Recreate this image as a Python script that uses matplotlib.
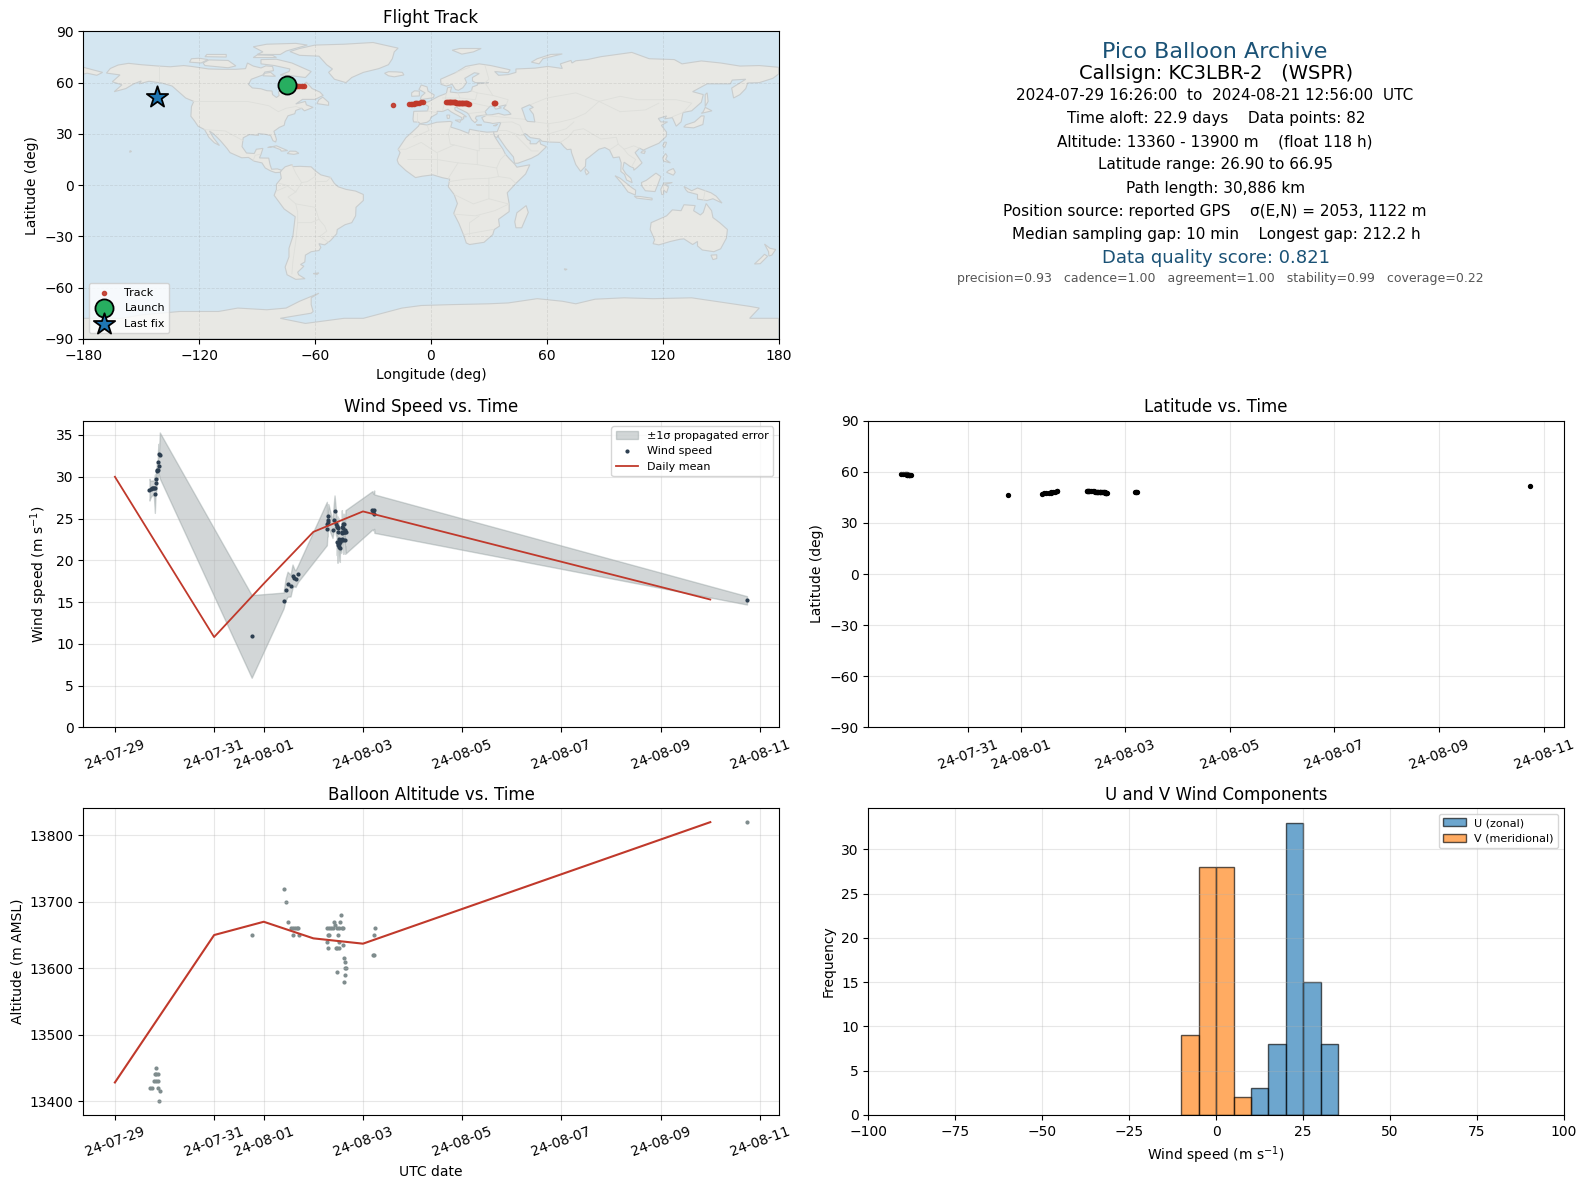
#!/usr/bin/env python3
# -*- coding: utf-8 -*-
from datetime import datetime
import numpy as np
import matplotlib
matplotlib.use('Agg')
import matplotlib.pyplot as plt
import matplotlib.dates as mdates

#%% DATA
# all times are days after 2024-07-29 00:00 UTC
fix_day = [0.712, 0.745, 0.79, 0.805, 0.825, 0.832, 0.832, 0.859, 0.859, 0.873, 0.885, 0.899,
           2.758,
           3.403, 3.443, 3.483, 3.55, 3.584, 3.584, 3.624, 3.664, 3.698, 3.705,
           4.268, 4.268, 4.289, 4.295, 4.309, 4.309, 4.349, 4.389, 4.409, 4.43, 4.45, 4.47, 4.47,
           4.483, 4.49, 4.51, 4.51, 4.51, 4.53, 4.55, 4.57, 4.59, 4.59, 4.61, 4.61, 4.63, 4.63, 4.63, 4.65,
           5.195, 5.215, 5.215, 5.235,
           12.74]
fix_alt = [13420, 13420, 13430, 13440, 13450, 13440, 13430, 13440, 13420, 13430, 13400, 13415,
           13650,
           13720, 13700, 13670, 13660, 13650, 13660, 13660, 13660, 13660, 13650,
           13660, 13640, 13630, 13650, 13660, 13650, 13660, 13660, 13670, 13665, 13630, 13660, 13594,
           13630, 13650, 13640, 13630, 13660, 13670, 13680, 13660, 13660, 13635, 13615, 13580, 13610, 13600, 13590, 13600,
           13620, 13620, 13650, 13660,
           13820]
fix_lat = [58.8, 58.8, 58.7, 58.6, 58.5, 58.4, 58.4, 58.3, 58.2, 58.2, 58.1, 58.0,
           46.7,
           47.3, 47.4, 47.5, 47.6, 47.8, 47.9, 48.1, 48.3, 48.5, 48.7,
           48.7, 48.7, 48.6, 48.6, 48.6, 48.6, 48.5, 48.5, 48.5, 48.4, 48.4, 48.4, 48.3,
           48.3, 48.3, 48.2, 48.2, 48.2, 48.1, 48.1, 48.0, 47.9, 47.9, 47.9, 47.8, 47.8, 47.8, 47.7, 47.7,
           47.9, 47.9, 47.9, 47.9,
           51.8]
fix_lon = [-74.7, -73.9, -72.8, -72.3, -71.8, -71.2, -70.8, -69.8, -69.2, -68.4, -67.0, -65.5,
           -19.9,
           -11.2, -10.4, -9.8, -9.0, -8.2, -7.9, -7.0, -6.1, -5.0, -4.3,
           7.8, 8.3, 8.8, 9.2, 9.7, 10.1, 10.5, 11.0, 11.4, 11.8, 12.3, 12.7, 13.1,
           13.5, 13.9, 14.3, 14.7, 15.1, 15.5, 15.9, 16.3, 16.7, 17.1, 17.5, 17.9, 18.3, 18.7, 19.1, 19.5,
           32.6, 32.9, 33.1, 33.4,
           -141.9]

wind_day = [0.697, 0.718, 0.744, 0.765, 0.785, 0.805, 0.818, 0.825, 0.838, 0.845, 0.852, 0.865, 0.865, 0.879, 0.885, 0.905,
            2.757,
            3.40, 3.44, 3.48, 3.54, 3.58, 3.615, 3.64, 3.69,
            4.272, 4.28, 4.29, 4.29, 4.305, 4.386, 4.406, 4.427, 4.46, 4.47, 4.473, 4.48, 4.487, 4.494, 4.494, 4.50,
            4.507, 4.52, 4.52, 4.534, 4.534, 4.547, 4.56, 4.57, 4.574, 4.58, 4.587, 4.593, 4.60, 4.607, 4.614, 4.62,
            4.627, 4.63, 4.634, 4.64, 4.648,
            5.19, 5.205, 5.225, 5.23,
            12.74]
wind_speed = [28.45, 28.5, 28.65, 28.65, 28.65, 27.97, 28.6, 29.2, 29.76, 30.64, 30.76, 30.84, 31.8, 32.75, 31.3, 32.55,
              10.88,
              15.18, 16.5, 17.13, 16.97, 18.09, 17.93, 17.8, 18.4,
              24.4, 23.7, 24.8, 24.6, 25.3, 23.67, 24.86, 25.86, 24.3, 24.0, 22.2, 24.1, 21.8, 23.4, 22.07, 23.9,
              21.6, 21.9, 22.6, 21.5, 22.2, 22.4, 22.4, 22.5, 24.0, 23.35, 23.3, 23.9, 22.47, 24.3, 23.4, 23.35,
              24.3, 23.6, 22.47, 23.35, 23.4,
              25.98, 25.78, 26.06, 25.58,
              15.2]
wind_sigma = [1.3, 1.0, 0.9, 0.9, 0.9, 2.3, 1.0, 1.2, 1.2, 1.0, 1.0, 1.0, 1.0, 1.2, 1.0, 2.75,
              4.95,
              0.95, 1.3, 1.5, 1.3, 1.4, 1.0, 1.0, 1.0,
              2.6, 1.0, 1.9, 1.2, 1.4, 1.0, 1.5, 1.9, 1.4, 1.0, 1.6, 1.2, 2.1, 1.5, 1.6, 1.2,
              1.6, 1.3, 1.0, 1.7, 1.5, 1.3, 1.5, 1.0, 2.0, 1.2, 1.5, 1.3, 1.7, 1.3, 1.2, 1.5,
              1.2, 1.6, 1.7, 1.6, 2.6,
              2.3, 2.2, 2.3, 2.3,
              0.5]

mean_day = [0, 2, 3, 4, 5, 12]
mean_speed = [30.0, 10.8, 17.2, 23.4, 25.85, 15.3]
mean_alt = [13428, 13650, 13670, 13645, 13637, 13820]

bin_left = [-10, -5, 0, 5, 10, 15, 20, 25, 30]
u_counts = [0, 0, 0, 0, 3, 8, 33, 15, 8]
v_counts = [9, 28, 28, 2, 0, 0, 0, 0, 0]

date_ticks = [datetime(2024, 7, 29), datetime(2024, 7, 31), datetime(2024, 8, 1), datetime(2024, 8, 3),
              datetime(2024, 8, 5), datetime(2024, 8, 7), datetime(2024, 8, 9), datetime(2024, 8, 11)]

# coarse world map, lon/lat outlines
land = [
    # north america
    [(-168,65.6),(-166,68.3),(-162,70.3),(-156.6,71.3),(-150,70.5),(-141,69.7),(-135,69.3),(-128,70),(-124,69.5),
     (-115,68),(-108,67.8),(-101,67.8),(-96,68.2),(-95,71.5),(-92,69.7),(-88,68.6),(-85.5,69.8),(-82,69.5),(-81.5,67),
     (-86,66.2),(-87,64.5),(-93,62),(-94.5,59),(-92.5,56.9),(-88,56.4),(-85,55.3),(-82.3,55.1),(-82,53),(-80,51.3),
     (-78.6,52.5),(-79,54.5),(-76.7,56.5),(-78,58.8),(-77.5,62.4),(-73.5,62.3),(-70,61),(-69.5,58.9),(-66,58.8),
     (-64.5,60.3),(-61.5,56.5),(-57.5,54.5),(-55.8,52.5),(-60,50.2),(-66.5,50.2),(-70,47.5),(-65,49),(-64.5,47),
     (-61,45.5),(-65.5,43.5),(-67,45),(-70,43.7),(-70.5,41.8),(-74,40.6),(-75.5,37.5),(-76,35),(-78.5,33.8),(-81.3,31.5),
     (-80,26.8),(-80.4,25.2),(-81.8,26),(-83,29),(-85.5,29.7),(-89.5,30.2),(-89.3,29.1),(-94,29.6),(-97.2,27.7),
     (-97.8,22.5),(-95.5,18.8),(-91.5,18.5),(-90.4,21),(-87,21.5),(-88,18),(-88.8,15.9),(-84,15.8),(-83.3,12),(-82.5,9.3),
     (-79.5,9.5),(-77.3,8.7),(-78,7.5),(-80.5,7.3),(-83,8.3),(-85.8,10),(-87.5,13),(-91.5,14),(-94.5,16.2),(-98,16),
     (-104,19),(-105.6,21.5),(-109,26),(-112.5,30),(-114.7,31.7),(-112.5,27.5),(-109.5,23.2),(-112.2,24.8),(-115,28),
     (-117.2,32.5),(-120.6,34.5),(-122.5,37.7),(-124.3,40.3),(-124,46),(-122.8,49),(-127,51),(-130.5,54.5),(-134,58),
     (-139.5,59.8),(-146,60.8),(-151,59.3),(-150,61),(-154,59.2),(-158,56.5),(-164,54.7),(-160,58.7),(-165,60.5),(-161,64.5)],
    [(-80,73.7),(-72,71.5),(-68,69.5),(-62,66.5),(-65,63),(-72,64),(-78,64.5),(-73.5,66.5),(-73,68),(-81,70),(-88,71),(-88,73.5)],
    [(-117,70),(-105,68.7),(-101,69.8),(-105,73),(-115,73.3),(-118,71.5)],
    [(-125,72),(-119,71.5),(-115.5,73.5),(-120,74.3),(-124,74)],
    [(-90,76.5),(-78,76.5),(-75,78.5),(-64,82),(-70,83),(-85,82.5),(-92,81),(-87,78)],
    [(-92,74.7),(-80,74.7),(-82,76),(-90,76.2)],
    [(-117,75.2),(-106,75),(-106,76.5),(-116,76.5)],
    [(-87,64),(-80.5,63.7),(-83,66),(-86,65.5)],
    [(-59,47.7),(-53,46.7),(-53,48.5),(-56,51.5),(-58,50)],
    # greenland, iceland, caribbean, hawaii
    [(-73,78.2),(-68,76),(-58,75.5),(-54,70.5),(-51,68),(-53,66),(-50,62),(-44,60),(-41,63),(-35,66),(-27,68.2),(-22,70.5),
     (-20,74),(-19,78),(-17,80.2),(-30,83.5),(-45,82.5),(-60,82),(-68,80)],
    [(-24,65.5),(-22,64),(-19,63.4),(-14,64.5),(-14.8,66),(-18,66.3),(-22,66.4)],
    [(-84.5,22),(-80,23),(-74.2,20.2),(-77.5,19.9),(-78,20.8),(-82,22.5)],
    [(-74.4,18.5),(-71,18),(-68.4,18.6),(-70,19.8),(-73,19.9)],
    [(-156,19.2),(-155,19.7),(-155.8,20.2)],
    # south america
    [(-77.3,8.7),(-75.5,10.7),(-72,12),(-71.5,10.8),(-68,11),(-62,10.7),(-60,8.5),(-57,6),(-52,4.5),(-50,1),(-48,-1),
     (-44,-2.5),(-39,-3.5),(-35,-5.5),(-35,-9),(-38.8,-13),(-39,-18),(-41,-22),(-44.5,-23.2),(-48.5,-26),(-48.8,-28.5),
     (-52,-32.5),(-55,-35),(-58,-34.3),(-57,-36.5),(-58,-38.3),(-62,-39),(-65,-41),(-65.3,-45),(-67.5,-46.5),(-65.8,-47.5),
     (-69,-51),(-68.5,-52.5),(-65.2,-54.8),(-70,-55.2),(-74.5,-52.5),(-75.5,-48),(-73.5,-42),(-73.5,-37),(-71.5,-30),
     (-70.3,-18.5),(-76,-14),(-81.2,-6),(-80,-2.5),(-80,0.5),(-77.5,4),(-78,7.5)],
    [(-61,-51.8),(-58,-51.4),(-59,-52.3)],
    # africa
    [(-5.9,35.8),(-2,35.2),(3,36.8),(10,37.3),(11,36.8),(10.2,34),(15,32.3),(19.5,30.3),(20,32.7),(25,31.6),(29,31),
     (32.5,31.2),(32.6,29.9),(33.5,27.5),(35.5,24),(37.3,21),(38.6,18),(41,15),(43.2,12.5),(44.5,10.5),(51.2,11.9),(49,6.5),
     (44,1),(39.5,-4.5),(40.5,-11),(40.5,-15.5),(35,-20),(35.5,-24),(32.8,-26),(32,-29),(27.5,-33.5),(20,-34.8),(18.3,-33.9),
     (17,-29.5),(14.5,-22.5),(11.8,-16.5),(13.7,-10.8),(12,-5.5),(9,-1),(9.7,3.5),(6,4.3),(1,6),(-4.5,5.2),(-8,4.4),(-13,8.5),
     (-16.8,12.5),(-17.5,14.7),(-16,19),(-17,21),(-13,27.7),(-9.8,31),(-6.5,34.5)],
    [(49.3,-12),(50.4,-16),(47,-25),(44,-25),(43.4,-21.5),(44.5,-16.2)],
    # eurasia
    [(-9.3,38.7),(-8.9,43.2),(-1.8,43.4),(-1.2,46),(-4.6,48.3),(-1.5,48.7),(1.5,50.5),(4,52),(8,53.7),(8.6,57),(10.7,57.5),
     (10,54.5),(14,54),(19,54.4),(21,55.2),(21.5,57.5),(24,58.5),(24,59.3),(30,60),(23,60),(21.5,61),(21.5,63),(25,65.3),
     (22.5,65.8),(17.5,62.5),(18.5,60),(16.5,57),(14.2,55.5),(12.7,56),(11,59),(8,58),(5.2,59),(5,62),(13,66),(18,69.5),
     (25,71),(31,70),(41,67.5),(40,65.8),(33,66.5),(35,64.3),(40,64.7),(44,66),(44,68),(54,68.5),(60.5,69.5),(68,68.3),(67,71),
     (72.5,73),(73,71.5),(75,72.8),(81,73.5),(88,75.2),(104,77.7),(113,74),(126,73.5),(130,71),(140,72.7),(150,71.5),(160,69.7),
     (170,70),(180,69),(180,65),(177,62.5),(170,60),(164,59.8),(163,56.5),(160,53),(156.7,51),(155.7,56.8),(163,62),(156,61.5),
     (155,59.3),(143,59.3),(135.5,54.7),(141,53),(140,48.5),(135,43.5),(130.5,42.5),(129.5,37),(127,34.5),(126,37),(125,39.5),
     (121,38.8),(122,40.5),(117.7,39),(119,37),(122.5,37),(119.3,35),(122,31),(121.8,28.5),(118,24.5),(113.5,22.3),(110,20.5),
     (108,21.6),(105.7,19),(109.3,13),(106.8,10.3),(105,8.7),(105,10),(103,11),(100.8,12.8),(100,13.4),(99.3,9.5),(101,6.5),
     (103.5,4),(104.2,1.4),(101.3,3),(100.2,6.3),(98.3,8),(98.5,13),(97.5,16.5),(94.4,16),(92.5,20.5),(90,22),(87,21),(82,16.5),
     (80.2,15),(80,11),(77.5,8),(75,12),(72.8,19),(72.5,21),(70.5,20.8),(69,22.3),(67,25),(61.5,25.2),(57.5,25.7),(56.3,27),
     (51.5,27.8),(48.8,30.2),(48,29.8),(50,26.7),(51.5,25.8),(51.3,24.2),(54.5,24.2),(56.3,26.2),(56.8,24),(59.8,22.5),
     (55.5,17.8),(52,15.7),(45,12.8),(43.3,12.8),(42.7,16.5),(39,21.5),(35,28),(34.9,29.5),(34.2,27.8),(33,28.5),(32.6,29.9),
     (32.5,31.2),(34.3,31.3),(35.8,35.5),(36.2,36.7),(32,36.1),(30.5,36.5),(27.5,37),(26.3,39.5),(29,41),(31.5,41.2),(35,42),
     (38,41),(41.5,41.5),(40,43.3),(37.5,45),(39,47),(35,46),(36.5,45.2),(33.5,44.5),(32.5,46),(30.7,46.3),(28,43),(28.9,41.2),
     (26.3,40.7),(23.5,40.3),(23,39),(24,38),(22.8,36.5),(21,38.3),(19.5,41.5),(18.5,42.5),(14,45),(13.5,45.7),(12.3,45.3),
     (12.5,44),(16,41.9),(18.4,40),(16.7,40),(17,39),(15.8,38),(16,39.5),(12.3,41.7),(10.3,43),(8.8,44.4),(6,43.1),(3.2,43.2),
     (3.2,41.8),(0,39.7),(-0.5,38),(-2,36.8),(-5.5,36),(-6.5,36.9),(-9,37)],
    [(-180,69),(-175,67.5),(-170,66),(-173,64.3),(-178,65.5),(-180,65)],
    [(-5.5,50),(1.3,51.2),(1.7,52.8),(-1.5,55),(-2,57.5),(-5,58.6),(-6.2,56),(-3,54),(-5,52)],
    [(-10,52),(-6,52.2),(-6,55),(-8.5,55.2),(-10,54)],
    [(11,79),(16,76.7),(22,78),(26,80),(15,80)],
    [(52,72),(56,71),(58,74),(68,76.8),(62,76.5),(55,74)],
    [(12.5,38),(15.5,38.2),(15,36.7)],
    [(8.2,41),(9.7,41),(9.5,39.1),(8.5,39)],
    [(32.4,34.8),(34.5,35.6),(33.5,34.7)],
    [(23.5,35.4),(26.3,35.2),(24.5,35)],
    [(80,9.7),(81.8,7.3),(80.5,6),(79.8,8)],
    [(130.9,34),(136,33.5),(140.8,35.5),(141.5,40.5),(140,40.5),(136.5,37),(132,35.3)],
    [(140,42),(145.5,43.5),(142,45.5),(141,43)],
    [(142,46),(143.5,49),(143,54),(142,53)],
    [(120,23),(121,22),(122,25),(121,25.2)],
    [(108.7,19),(110.5,18.5),(111,20),(109.5,20)],
    [(120,16),(121.5,18.5),(122.3,17),(121.5,15),(124,13),(120.5,14)],
    [(122,7.5),(125.5,5.8),(126.5,7.5),(125.5,9.7),(123,8.5)],
    [(95.3,5.5),(98,4),(104,-1.5),(106,-3),(105.8,-5.8),(102,-4),(98.8,1)],
    [(105.3,-6.5),(108.5,-6.7),(114.5,-7.7),(114.5,-8.7),(106.5,-7.6)],
    [(109,1.5),(111.5,2.8),(116.5,7),(119,5),(117.7,1),(116,-3.8),(111,-3.3),(109.2,-0.5)],
    [(119.5,-5.5),(119,-2.5),(120.5,1.2),(125,1.5),(121,0.3),(123,-1),(122,-4.5),(120.5,-2.8),(120.5,-5.5)],
    [(131,-0.8),(135,-3.3),(138,-1.7),(145,-4.5),(147.7,-6.5),(150.7,-10.5),(146,-8),(143,-9),(138,-8.2),(138,-5.5),(133,-4),(132,-2.8)],
    # australia, nz
    [(114,-22),(113.5,-26),(115.8,-32),(115,-34.3),(118,-35),(124,-33),(129,-31.7),(131,-31.5),(135.5,-34.8),(138,-33),(138,-35.6),
     (140.5,-38),(146.5,-39),(150,-37.3),(153,-31),(153.5,-26),(149.5,-22),(146,-19),(145.3,-15),(142.5,-10.8),(141,-16),(139.5,-17.5),
     (136,-15),(136.8,-12),(131,-11.5),(129.5,-15),(125,-14.5),(122,-18),(117,-20.5)],
    [(145,-41),(148,-40.8),(148,-43),(146,-43.6)],
    [(172.7,-34.5),(175.5,-37),(178.5,-37.7),(176.5,-41),(175,-41.5),(174.8,-39)],
    [(172.7,-40.5),(174.3,-41.7),(170.5,-46),(167.5,-46.2),(171,-42.5)],
    [(69,-49),(70.5,-49.3),(69.5,-49.8)],
    # antarctica
    [(-180,-78),(-160,-78),(-150,-76),(-130,-74),(-110,-74),(-100,-72),(-85,-73),(-75,-72),(-68,-68),(-58,-63.3),(-62,-66),(-62,-70),
     (-61,-74),(-62,-75),(-78,-78),(-65,-81),(-45,-78),(-35,-78),(-25,-75),(-15,-72),(-5,-70.5),(10,-70),(30,-69.5),(40,-69),(55,-66.5),
     (68,-68),(75,-69.5),(85,-66.8),(100,-66),(115,-66.5),(135,-66),(150,-68.5),(165,-71),(170,-72),(165,-78),(180,-78),(180,-90),(-180,-90)],
]
caspian = [(47,45),(51,47),(53,45.5),(51,44.5),(53,41.5),(53.8,37),(50,37.3),(49,38.5),(47.7,43)]
borders = [
    [(-141,69.7),(-141,60.3)], [(-123,49),(-95,49),(-84,46.5),(-79,43),(-75,45),(-70,46),(-67,45)],
    [(-117.2,32.5),(-106.5,31.7),(-97.2,26)], [(-92,14.5),(-91,17.5),(-88.5,18)],
    [(-72,12),(-70,7),(-67,1.5),(-70,-4),(-74,-7),(-70,-11),(-69,-16),(-69,-22),(-70,-33),(-71.5,-45),(-72,-52)],
    [(-60,8.5),(-60,5),(-64,2),(-67,1.5)], [(-70,-11),(-60,-13),(-58,-20),(-55,-24),(-54,-27),(-57.5,-30),(-53,-33.5)],
    [(-69,-22),(-62,-22),(-58,-20)], [(-78.5,1),(-75,0),(-70,-4)], [(-80,-3.5),(-75,-1)], [(-52,4.5),(-54,2.2),(-60,2)],
    [(-17,21),(-13,21),(-5,25),(3,19),(12,23.5),(25,20),(25,31.6)], [(-9,28),(-1,32),(-2,35.2)], [(10,34),(9,30),(10,24),(12,23.5)],
    [(25,22),(36,22)], [(3,19),(3,12),(3,6.5)], [(-12,15),(-5,15),(3,15),(14,13),(24,12),(24,20)], [(14,13),(9,4)],
    [(24,12),(34,10),(36,15),(38.6,18)], [(34,10),(35,5),(41,4),(44,1)], [(9,2),(18,3.5),(30,4),(35,5)], [(30,4),(30,-8),(40,-11)],
    [(12,-5.5),(22,-11),(30,-8)], [(11.8,-17),(23,-18),(33,-15),(40.5,-11)], [(20,-29),(20,-22),(25,-18)], [(17,-29),(32,-26)],
    [(-1.8,43.4),(3.2,42.4)], [(-7,37),(-7,42)], [(6,43.5),(7,48),(8,53.7)], [(6,51),(15,51),(14,54)], [(15,51),(23,50),(24,54),(21,55.2)],
    [(13,47.5),(22,48),(30,46)], [(24,54),(32,52.5),(40,50),(39,47)], [(28,60),(32,52.5)], [(13,66),(20,69)], [(28,70),(30,62),(28,60)],
    [(20,42),(28,43)], [(26.3,41),(44,39),(49,38.5)], [(36.2,36.7),(42,37),(46,35),(48,30)], [(35,32),(39,32),(46,29),(48,29)], [(44,29),(52,20),(55.5,20)],
    [(47,45),(60,51),(75,54),(87,49),(80,42),(74,39),(67,37),(61,36),(53.8,37)], [(61,36),(61,31),(61.5,25.2)], [(61,30),(70,33),(74,37)],
    [(67,25),(71,28),(74,32),(79,33),(88,27),(96,28),(97,24),(93,21)], [(87,49),(98,52),(107,50),(118,50),(127,50),(135,48),(131,43)],
    [(98,43),(111,44),(118,48)], [(87,49),(98,43)], [(97,24),(100,21),(105,23),(108,21.6)], [(100,21),(102,18),(106,15),(104,11)],
    [(125,40),(130.5,42.5)], [(142,-3),(141,-9)],
]

#%% FIGURE
fig = plt.figure(figsize=(15.86, 11.89), dpi=100)
W, H = 1586.0, 1189.0

def add_ax(x0, y0, x1, y1):
    return fig.add_axes([x0 / W, 1 - y1 / H, (x1 - x0) / W, (y1 - y0) / H])

COL1 = (83.3, 778.6)
COL2 = (868.3, 1564.0)
ROW1 = (31.4, 338.8)
ROW2 = (420.8, 727.3)
ROW3 = (808.2, 1115.0)

START = mdates.date2num(datetime(2024, 7, 29))
fix_t = START + np.array(fix_day)
wind_t = START + np.array(wind_day)
mean_t = START + np.array(mean_day)
wind_speed = np.array(wind_speed)
wind_sigma = np.array(wind_sigma)

DARK = '#2c3e50'
RED = '#c0392b'
GREY = '#7f8c8d'
TITLE_BLUE = '#1a5276'

def date_axis(ax):
    ax.set_xticks(date_ticks)
    ax.xaxis.set_major_formatter(mdates.DateFormatter('%y-%m-%d'))
    ax.tick_params(axis='x', labelrotation=20)
    ax.grid(alpha=0.3)

#%% Flight track
ax = add_ax(COL1[0], ROW1[0], COL1[1], ROW1[1])
ax.set_facecolor('#d4e6f1')
for poly in land:
    xy = np.array(poly)
    ax.fill(xy[:, 0], xy[:, 1], facecolor='#e8e8e4', edgecolor='#c9cdce', lw=0.8, zorder=1)
xy = np.array(caspian)
ax.fill(xy[:, 0], xy[:, 1], facecolor='#d4e6f1', edgecolor='#c9cdce', lw=0.8, zorder=1.2)
for line in borders:
    xy = np.array(line)
    ax.plot(xy[:, 0], xy[:, 1], color='#dedfdb', lw=0.6, zorder=1.1)
ax.scatter(fix_lon, fix_lat, s=9, color=RED, alpha=0.9, zorder=3, label='Track')
ax.scatter(fix_lon[0], fix_lat[0], s=170, color='#27ae60', edgecolor='black', linewidth=1.3, zorder=4, label='Launch')
ax.scatter(fix_lon[-1], fix_lat[-1], s=260, marker='*', color='#1f77b4', edgecolor='black', linewidth=1.3, zorder=4, label='Last fix')
ax.set_xlim(-180, 180)
ax.set_ylim(-90, 90)
ax.set_xticks(range(-180, 181, 60))
ax.set_yticks(range(-90, 91, 30))
ax.grid(alpha=0.18, ls='--', lw=0.6, color='grey')
ax.set_xlabel('Longitude (deg)')
ax.set_ylabel('Latitude (deg)')
ax.set_title('Flight Track')
ax.legend(loc='lower left', fontsize=8)

#%% Summary text
ax = add_ax(COL2[0], ROW1[0], COL2[1], ROW1[1])
ax.axis('off')
summary = [
    (51, 0.4985, 'Pico Balloon Archive', 16, TITLE_BLUE),
    (73, 0.5, 'Callsign: KC3LBR-2   (WSPR)', 14, 'black'),
    (94, 0.4985, '2024-07-29 16:26:00  to  2024-08-21 12:56:00  UTC', 11, 'black'),
    (117, 0.5, 'Time aloft: 22.9 days    Data points: 82', 11, 'black'),
    (140, 0.4985, 'Altitude: 13360 - 13900 m    (float 118 h)', 11, 'black'),
    (163, 0.4985, 'Latitude range: 26.90 to 66.95', 11, 'black'),
    (186, 0.4985, 'Path length: 30,886 km', 11, 'black'),
    (209, 0.4985, 'Position source: reported GPS    σ(E,N) = 2053, 1122 m', 11, 'black'),
    (232, 0.5, 'Median sampling gap: 10 min    Longest gap: 212.2 h', 11, 'black'),
    (255.5, 0.5, 'Data quality score: 0.821', 13, TITLE_BLUE),
    (275.5, 0.506, 'precision=0.93   cadence=1.00   agreement=1.00   stability=0.99   coverage=0.22', 9, '#555555'),
]
for y_px, x_frac, txt, size, col in summary:
    ax.text(x_frac, 1 - (y_px - 31) / 304.0, txt, transform=ax.transAxes, ha='center', va='center', fontsize=size, color=col)

#%% Wind speed
ax = add_ax(COL1[0], ROW2[0], COL1[1], ROW2[1])
ax.fill_between(wind_t, wind_speed - wind_sigma, wind_speed + wind_sigma, color=GREY, alpha=0.35, label='±1σ propagated error')
ax.scatter(wind_t, wind_speed, s=4, color=DARK, label='Wind speed', zorder=3)
ax.plot(mean_t, mean_speed, color=RED, lw=1.3, label='Daily mean', zorder=4)
ax.set_ylim(bottom=0)
ax.set_ylabel('Wind speed (m s$^{-1}$)')
ax.set_title('Wind Speed vs. Time')
ax.legend(loc='upper right', fontsize=8)
date_axis(ax)
ax.set_xlim(START - 0.637, START + 13.377)
ax.set_ylim(0, 36.7)

#%% Latitude
ax = add_ax(COL2[0], ROW2[0], COL2[1], ROW2[1])
ax.scatter(fix_t, fix_lat, s=8, color='black')
ax.set_ylim(-90, 90)
ax.set_yticks(range(-90, 91, 30))
ax.set_ylabel('Latitude (deg)')
ax.set_title('Latitude vs. Time')
date_axis(ax)
ax.set_xlim(START + 0.09, START + 13.39)

#%% Altitude
ax = add_ax(COL1[0], ROW3[0], COL1[1], ROW3[1])
ax.scatter(fix_t, fix_alt, s=4, color=GREY)
ax.plot(mean_t, mean_alt, color=RED, lw=1.5)
ax.set_ylabel('Altitude (m AMSL)')
ax.set_xlabel('UTC date')
ax.set_title('Balloon Altitude vs. Time')
date_axis(ax)
ax.set_xlim(START - 0.637, START + 13.377)

#%% Wind components
ax = add_ax(COL2[0], ROW3[0], COL2[1], ROW3[1])
ax.bar(bin_left, u_counts, width=5, align='edge', color='#1f77b4', alpha=0.65, edgecolor='black', label='U (zonal)')
ax.bar(bin_left, v_counts, width=5, align='edge', color='#ff7f0e', alpha=0.65, edgecolor='black', label='V (meridional)')
ax.set_xlim(-100, 100)
ax.set_xlabel('Wind speed (m s$^{-1}$)')
ax.set_ylabel('Frequency')
ax.set_title('U and V Wind Components')
ax.legend(loc='upper right', fontsize=8)
ax.grid(alpha=0.3)

fig.savefig('out.png', dpi=100)
